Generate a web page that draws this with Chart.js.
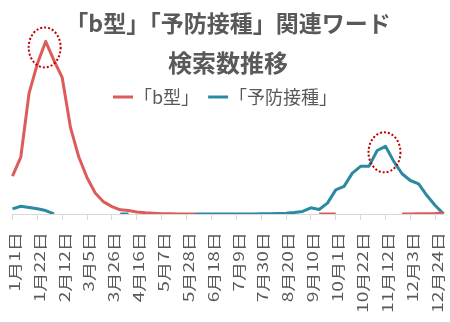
<!DOCTYPE html>
<html lang="ja">
<head>
<meta charset="utf-8">
<title>「b型」「予防接種」関連ワード 検索数推移</title>
<script src="https://cdn.jsdelivr.net/npm/chart.js@4.4.1/dist/chart.umd.min.js"></script>
<style>
  html, body { margin: 0; padding: 0; background: #fff; }
  #wrap { position: relative; width: 450px; height: 322px; border-bottom: 1px solid #d9d9d9; }
</style>
</head>
<body>
<div id="wrap"><canvas id="trend-chart"></canvas></div>
<script>
// weekly buckets, Jan 1 .. Dec 31
const weeks = [
  '1月1日', '1月8日', '1月15日', '1月22日', '1月29日', '2月5日', '2月12日', '2月19日', '2月26日',
  '3月5日', '3月12日', '3月19日', '3月26日', '4月2日', '4月9日', '4月16日', '4月23日', '4月30日',
  '5月7日', '5月14日', '5月21日', '5月28日', '6月4日', '6月11日', '6月18日', '6月25日', '7月2日',
  '7月9日', '7月16日', '7月23日', '7月30日', '8月6日', '8月13日', '8月20日', '8月27日', '9月3日',
  '9月10日', '9月17日', '9月24日', '10月1日', '10月8日', '10月15日', '10月22日', '10月29日', '11月5日',
  '11月12日', '11月19日', '11月26日', '12月3日', '12月10日', '12月17日', '12月24日', '12月31日'
];

const seriesNames = ['「b型」', '「予防接種」'];
const seriesColors = ['#DC5C5C', '#2A8AA2'];

// relative search volume (peak = 100); null = no data that week
const bTypeVolume = [
  22, 33, 70, 87, 100, 89, 79, 50, 33, 21, 12, 7, 4.3, 2.4, 2, 1.2, 0.7, 0.4, 0.2, 0.1, 0.05, 0.05, 0.05,
  null, null, null, null, null, null, null, null, null, null, null, null, null, null,
  0.05, 0.05, 0.05,
  null, null, null, null, null, null, null,
  0.05, 0.05, 0.1, 0.2, 0.3, 0.6, 0.3
];
const vaccineVolume = [
  3, 4.5, 3.8, 3, 2, 0.1,
  null, null, null, null, null, null, null,
  0.05, 0.05,
  null, null, null, null, null, null, null,
  0.05, 0.05, 0.05, 0.05, 0.05, 0.05, 0.05, 0.05, 0.1, 0.2,
  0.3, 0.5, 0.9, 1.5, 3.6, 2.6, 6.3, 14, 16, 23.7, 27.6, 27.6, 36.8, 39.2, 30.5, 23.3, 19.4, 17.5, 10.7, 4.9, 0.1
];

const titleLines = ['「b型」「予防接種」関連ワード', '検索数推移'];

const TEXT_COLOR = '#595959';
const AXIS_COLOR = '#D9D9D9';
const JP_FONT = '"Noto Sans CJK JP", "Noto Sans", sans-serif';

// title + legend are drawn over the plot, the curves run up behind them
const headerPlugin = {
  id: 'header',
  afterDraw(chart) {
    const ctx = chart.ctx;
    ctx.save();
    ctx.fillStyle = TEXT_COLOR;
    ctx.textAlign = 'center';
    ctx.textBaseline = 'middle';
    ctx.font = 'bold 23px ' + JP_FONT;
    ctx.fillText(titleLines[0], 228, 23);
    ctx.font = 'bold 24px ' + JP_FONT;
    ctx.fillText(titleLines[1], 228, 63);

    ctx.font = '18px ' + JP_FONT;
    ctx.textAlign = 'left';
    const sampleLen = 20, textGap = 1, itemGap = 9;
    let x = 113;
    const y = 97;
    chart.data.datasets.forEach(ds => {
      ctx.strokeStyle = ds.borderColor;
      ctx.lineWidth = 3;
      ctx.beginPath();
      ctx.moveTo(x, y);
      ctx.lineTo(x + sampleLen, y);
      ctx.stroke();
      x += sampleLen + textGap;
      ctx.fillText(ds.label, x, y);
      x += ctx.measureText(ds.label).width + itemGap;
    });
    ctx.restore();
  }
};

// every third week gets a vertical, slightly stretched date label
const weekLabelPlugin = {
  id: 'weekLabels',
  afterDraw(chart) {
    const scale = chart.scales.x;
    const ctx = chart.ctx;
    ctx.save();
    ctx.fillStyle = TEXT_COLOR;
    ctx.font = '14px ' + JP_FONT;
    ctx.textAlign = 'right';
    ctx.textBaseline = 'middle';
    const top = scale.top + 18;
    scale.ticks.forEach((tick, i) => {
      if (i % 3 !== 0) return;
      ctx.save();
      ctx.translate(scale.getPixelForTick(i) + 2, top);
      ctx.rotate(-Math.PI / 2);
      ctx.scale(1.37, 1);
      ctx.fillText(weeks[i], 0, 0);
      ctx.restore();
    });
    ctx.restore();
  }
};

// dotted ring around each series' highest week
const peakMarkPlugin = {
  id: 'peakMarks',
  afterDatasetsDraw(chart) {
    const ctx = chart.ctx;
    ctx.save();
    ctx.strokeStyle = '#C00000';
    ctx.lineWidth = 2;
    ctx.setLineDash([2, 2]);
    chart.data.datasets.forEach((ds, di) => {
      let peak = -1;
      ds.data.forEach((v, i) => {
        if (v !== null && (peak < 0 || v > ds.data[peak])) peak = i;
      });
      const pt = chart.getDatasetMeta(di).data[peak];
      ctx.beginPath();
      ctx.ellipse(pt.x - 1, pt.y + 6, 16, 20, 0, 0, Math.PI * 2);
      ctx.stroke();
    });
    ctx.restore();
  }
};

new Chart(document.getElementById('trend-chart'), {
  type: 'line',
  data: {
    labels: weeks,
    datasets: [
      { label: seriesNames[0], data: bTypeVolume, borderColor: seriesColors[0] },
      { label: seriesNames[1], data: vaccineVolume, borderColor: seriesColors[1] }
    ]
  },
  options: {
    responsive: true,
    maintainAspectRatio: false,
    animation: false,
    spanGaps: false,
    layout: { padding: { left: 12.5, right: 6.5, top: 0, bottom: 0 } },
    elements: {
      line: { borderWidth: 3, tension: 0, borderJoinStyle: 'round', fill: false },
      point: { radius: 0, hoverRadius: 0 }
    },
    plugins: {
      legend: { display: false },
      title: { display: false },
      tooltip: { enabled: false }
    },
    scales: {
      x: {
        offset: false,
        border: { display: true, color: AXIS_COLOR, width: 1 },
        grid: {
          drawOnChartArea: false,
          drawTicks: true,
          tickLength: 6,
          color: ctx => (ctx.index % 3 === 0 ? AXIS_COLOR : 'rgba(0,0,0,0)')
        },
        ticks: {
          display: false,
          autoSkip: false
        },
        afterFit: scale => { scale.height = 108; }
      },
      y: {
        display: false,
        min: 0,
        max: 124
      }
    }
  },
  plugins: [peakMarkPlugin, headerPlugin, weekLabelPlugin]
});
</script>
</body>
</html>
